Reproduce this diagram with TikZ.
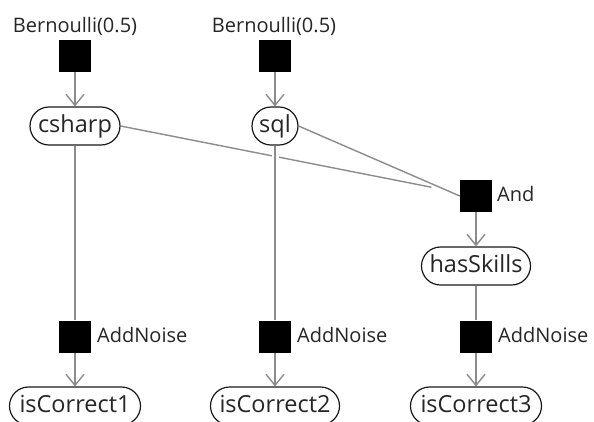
\documentclass[tikz,border=0pt]{standalone}
\usepackage{fontspec}
\setmainfont{Open Sans}
\usetikzlibrary{shapes.misc,arrows.meta}
\begin{document}
\begin{tikzpicture}[x=1pt,y=-1pt,
  var/.style={rounded rectangle, draw=black!90, line width=1.2pt, fill=white,
    minimum height=38pt, inner xsep=3pt, inner ysep=0pt,
    text height=17pt, text depth=4pt, text=black!85,
    font=\fontsize{23.5}{26}\selectfont},
  fac/.style={fill=black, minimum size=32pt, inner sep=0pt},
  flabel/.style={anchor=base, inner sep=0pt, text=black!85,
    font=\fontsize{20}{24}\selectfont},
  edge/.style={draw=gray!90, line width=1.4pt},
  arr/.style={edge, -{Straight Barb[length=11pt,width=18pt,line width=1.4pt]}}
]
\clip (0,0) rectangle (594,421);
\fill[white] (0,0) rectangle (594,421);

% priors
\node[fac] (b1) at (75,56) {};
\node[fac] (b2) at (275,56) {};
\node[flabel] (b1l) at (75,32) {Bernoulli(0.5)};
\node[flabel] (b2l) at (274,32) {Bernoulli(0.5)};

% skill variables
\node[var, minimum width=96pt] (csharp) at (75,126) {csharp};
\node[var, minimum width=52pt] (sql) at (275,126) {sql};

% conjunction factor
\node[fac] (and) at (476,196) {};
\node[flabel, anchor=base west] (andl) at (497,201) {And};
\node[var, minimum width=115pt] (has) at (476,266) {hasSkills};

% noise factors
\node[fac] (n1) at (75,336.5) {};
\node[fac] (n2) at (275,336.5) {};
\node[fac] (n3) at (476,336.5) {};
\node[flabel, anchor=base west] (n1l) at (97,342.7) {AddNoise};
\node[flabel, anchor=base west] (n2l) at (297,342.7) {AddNoise};
\node[flabel, anchor=base west] (n3l) at (498,342.7) {AddNoise};

% observed answers
\node[var, minimum width=137pt] (c1) at (75,406) {isCorrect1};
\node[var, minimum width=135pt] (c2) at (275,406) {isCorrect2};
\node[var, minimum width=137pt] (c3) at (476,406) {isCorrect3};

% edges
\draw[edge, shorten >=29pt] (csharp.east) -- (and);
\draw[edge] (sql.east) -- (and.west);
\draw[arr] (b1.south) -- (csharp.north);
\draw[arr] (b2.south) -- (sql.north);
\draw[edge] (csharp.south) -- (n1.north);
\draw[edge, preaction={draw=white, line width=7pt, shorten <=8pt, shorten >=8pt}] (sql.south) -- (n2.north);
\draw[arr] (and.south) -- (has.north);
\draw[edge] (has.south) -- (n3.north);
\draw[arr] (n1.south) -- (c1.north);
\draw[arr] (n2.south) -- (c2.north);
\draw[arr] (n3.south) -- (c3.north);
\end{tikzpicture}
\end{document}
